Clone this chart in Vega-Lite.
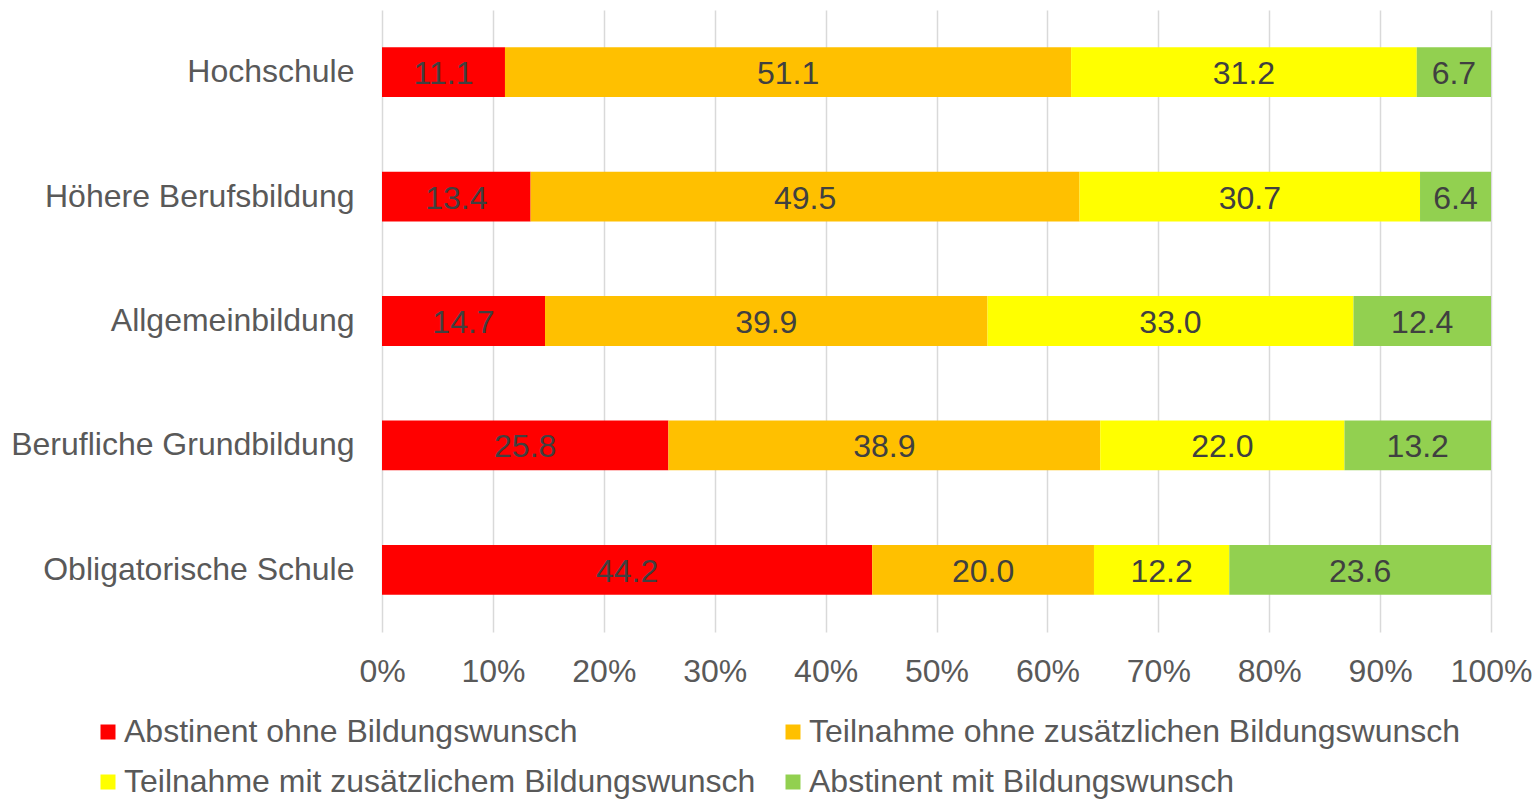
{
  "$schema": "https://vega.github.io/schema/vega-lite/v6.json",
  "autosize": "none",
  "width": 1109,
  "height": 622,
  "padding": {"left": 382, "top": 10, "right": 43, "bottom": 167},
  "background": "white",
  "config": {
    "font": "Liberation Sans",
    "view": {"stroke": null}
  },
  "data": {
    "values": [
      {"level": "Hochschule", "cat": "Abstinent ohne Bildungswunsch", "o": 1, "v": 11.1},
      {"level": "Hochschule", "cat": "Teilnahme ohne zusätzlichen Bildungswunsch", "o": 2, "v": 51.1},
      {"level": "Hochschule", "cat": "Teilnahme mit zusätzlichem Bildungswunsch", "o": 3, "v": 31.2},
      {"level": "Hochschule", "cat": "Abstinent mit Bildungswunsch", "o": 4, "v": 6.7},
      {"level": "Höhere Berufsbildung", "cat": "Abstinent ohne Bildungswunsch", "o": 1, "v": 13.4},
      {"level": "Höhere Berufsbildung", "cat": "Teilnahme ohne zusätzlichen Bildungswunsch", "o": 2, "v": 49.5},
      {"level": "Höhere Berufsbildung", "cat": "Teilnahme mit zusätzlichem Bildungswunsch", "o": 3, "v": 30.7},
      {"level": "Höhere Berufsbildung", "cat": "Abstinent mit Bildungswunsch", "o": 4, "v": 6.4},
      {"level": "Allgemeinbildung", "cat": "Abstinent ohne Bildungswunsch", "o": 1, "v": 14.7},
      {"level": "Allgemeinbildung", "cat": "Teilnahme ohne zusätzlichen Bildungswunsch", "o": 2, "v": 39.9},
      {"level": "Allgemeinbildung", "cat": "Teilnahme mit zusätzlichem Bildungswunsch", "o": 3, "v": 33.0},
      {"level": "Allgemeinbildung", "cat": "Abstinent mit Bildungswunsch", "o": 4, "v": 12.4},
      {"level": "Berufliche Grundbildung", "cat": "Abstinent ohne Bildungswunsch", "o": 1, "v": 25.8},
      {"level": "Berufliche Grundbildung", "cat": "Teilnahme ohne zusätzlichen Bildungswunsch", "o": 2, "v": 38.9},
      {"level": "Berufliche Grundbildung", "cat": "Teilnahme mit zusätzlichem Bildungswunsch", "o": 3, "v": 22.0},
      {"level": "Berufliche Grundbildung", "cat": "Abstinent mit Bildungswunsch", "o": 4, "v": 13.2},
      {"level": "Obligatorische Schule", "cat": "Abstinent ohne Bildungswunsch", "o": 1, "v": 44.2},
      {"level": "Obligatorische Schule", "cat": "Teilnahme ohne zusätzlichen Bildungswunsch", "o": 2, "v": 20.0},
      {"level": "Obligatorische Schule", "cat": "Teilnahme mit zusätzlichem Bildungswunsch", "o": 3, "v": 12.2},
      {"level": "Obligatorische Schule", "cat": "Abstinent mit Bildungswunsch", "o": 4, "v": 23.6}
    ]
  },
  "encoding": {
    "y": {
      "field": "level",
      "type": "nominal",
      "sort": null,
      "title": null,
      "scale": {"paddingInner": 0.6, "paddingOuter": 0.3},
      "axis": {
        "domain": false,
        "ticks": false,
        "labelFontSize": 32,
        "labelColor": "#595959",
        "labelPadding": 28,
        "labelLimit": 500
      }
    },
    "order": {"field": "o", "type": "quantitative"}
  },
  "layer": [
    {
      "mark": {"type": "bar"},
      "encoding": {
        "x": {
          "field": "v",
          "type": "quantitative",
          "stack": "normalize",
          "title": null,
          "scale": {"domain": [0, 1]},
          "axis": {
            "format": ".0%",
            "values": [0, 0.1, 0.2, 0.3, 0.4, 0.5, 0.6, 0.7, 0.8, 0.9, 1],
            "domain": false,
            "ticks": false,
            "grid": true,
            "gridColor": "#d9d9d9",
            "gridWidth": 1.5,
            "labelFontSize": 32,
            "labelColor": "#595959",
            "labelPadding": 24,
            "labelFlush": false,
            "labelOverlap": false
          }
        },
        "color": {
          "field": "cat",
          "type": "nominal",
          "scale": {
            "domain": [
              "Abstinent ohne Bildungswunsch",
              "Teilnahme ohne zusätzlichen Bildungswunsch",
              "Teilnahme mit zusätzlichem Bildungswunsch",
              "Abstinent mit Bildungswunsch"
            ],
            "range": ["#FF0000", "#FFC000", "#FFFF00", "#92D050"]
          },
          "legend": {
            "title": null,
            "orient": "none",
            "legendX": -290,
            "legendY": 706,
            "direction": "horizontal",
            "columns": 2,
            "padding": 0,
            "columnPadding": 21,
            "rowPadding": 18,
            "symbolType": "square",
            "symbolSize": 225,
            "symbolStrokeWidth": 0,
            "labelOffset": 0,
            "labelFontSize": 32,
            "labelColor": "#595959",
            "labelLimit": 900
          }
        }
      }
    },
    {
      "mark": {"type": "text", "fontSize": 32, "color": "#404040", "baseline": "middle", "dy": 2},
      "encoding": {
        "x": {"field": "v", "type": "quantitative", "stack": "normalize", "bandPosition": 0.5},
        "text": {"field": "v", "type": "quantitative", "format": ".1f"}
      }
    }
  ]
}
